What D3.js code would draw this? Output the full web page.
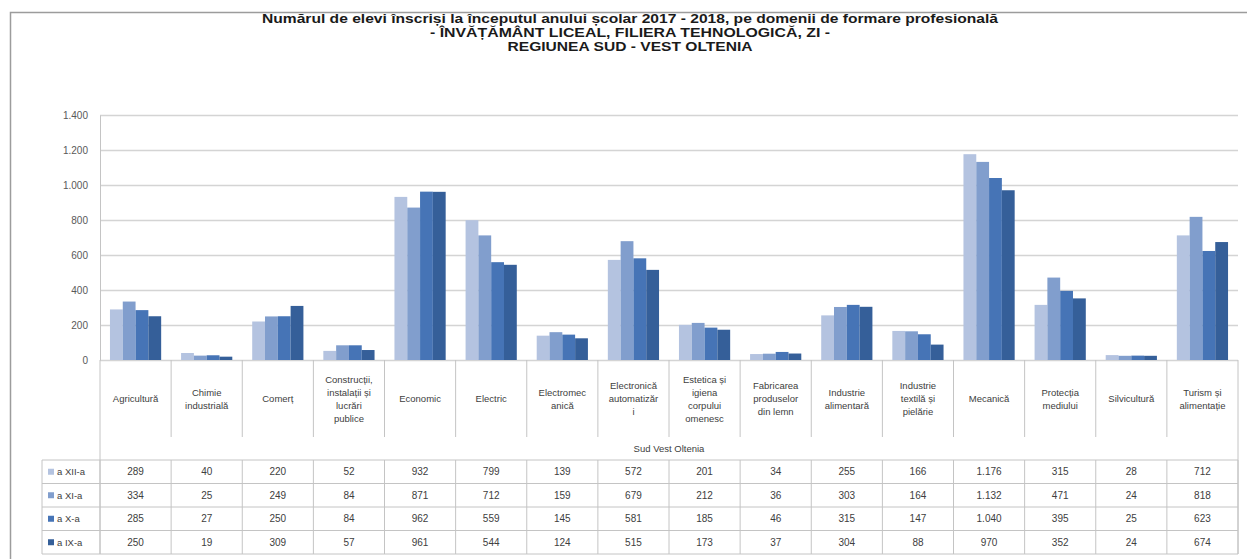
<!DOCTYPE html>
<html>
<head>
<meta charset="utf-8">
<script src="https://cdn.jsdelivr.net/npm/d3@7"></script>
<style>
  body { margin: 0; background: #fff; }
  svg { display: block; }
  text { font-family: "Liberation Sans Narrow", "Liberation Sans", Arial, sans-serif; }
</style>
</head>
<body>
<script>
// categories (domenii), each label already split into lines as in the picture
var categories = [
  ["Agricultură"],
  ["Chimie", "industrială"],
  ["Comerț"],
  ["Construcții,", "instalații și", "lucrări", "publice"],
  ["Economic"],
  ["Electric"],
  ["Electromec", "anică"],
  ["Electronică", "automatizăr", "i"],
  ["Estetica și", "igiena", "corpului", "omenesc"],
  ["Fabricarea", "produselor", "din lemn"],
  ["Industrie", "alimentară"],
  ["Industrie", "textilă și", "pielărie"],
  ["Mecanică"],
  ["Protecția", "mediului"],
  ["Silvicultură"],
  ["Turism și", "alimentație"]
];

var seriesNames = ["a XII-a", "a XI-a", "a X-a", "a IX-a"];
var clsXII = [289, 40, 220, 52, 932, 799, 139, 572, 201, 34, 255, 166, 1176, 315, 28, 712];
var clsXI  = [334, 25, 249, 84, 871, 712, 159, 679, 212, 36, 303, 164, 1132, 471, 24, 818];
var clsX   = [285, 27, 250, 84, 962, 559, 145, 581, 185, 46, 315, 147, 1040, 395, 25, 623];
var clsIX  = [250, 19, 309, 57, 961, 544, 124, 515, 173, 37, 304, 88, 970, 352, 24, 674];
var yTicks = [0, 200, 400, 600, 800, 1000, 1200, 1400];

var titleLines = [
  "Numărul de elevi înscriși la începutul anului școlar 2017 - 2018, pe domenii de formare profesională",
  "- ÎNVĂȚĂMÂNT LICEAL,  FILIERA TEHNOLOGICĂ, ZI -",
  "REGIUNEA SUD - VEST OLTENIA"
];
var titleWidths = [736, 400, 245];
var regionLabel = "Sud Vest Oltenia";

var series = [clsXII, clsXI, clsX, clsIX];
var colors = ["#b4c3e0", "#819ecd", "#4674b6", "#355f99"];

var width = 1247, height = 559;
var plotLeft = 100, plotRight = 1238, plotTop = 115, base = 360;
var gridColor = "#d4d4d4", lineColor = "#c4c4c4", txt = "#404040";

var ro = d3.formatLocale({ decimal: ",", thousands: ".", grouping: [3], currency: ["", " lei"] });
var fmt = ro.format(",d");

var svg = d3.select("body").append("svg")
  .attr("width", width)
  .attr("height", height);

// chart frame
svg.append("rect")
  .attr("x", 10.5).attr("y", 12.5)
  .attr("width", 1260).attr("height", 560)
  .attr("fill", "none").attr("stroke", "#9c9c9c").attr("stroke-width", 1.5);

// title
svg.append("g").selectAll("text")
  .data(titleLines)
  .enter().append("text")
  .attr("x", 630)
  .attr("y", (d, i) => 23 + i * 14)
  .attr("text-anchor", "middle")
  .attr("textLength", (d, i) => titleWidths[i])
  .attr("lengthAdjust", "spacingAndGlyphs")
  .style("font-size", "12.5px")
  .style("font-weight", "bold")
  .attr("fill", "#1a1a1a")
  .text(d => d);

var y = d3.scaleLinear().domain([0, 1400]).range([base, plotTop]);

var x = d3.scaleBand()
  .domain(d3.range(categories.length))
  .range([plotLeft, plotRight]);

var xs = d3.scaleBand()
  .domain(d3.range(series.length))
  .range([x.bandwidth() * 0.14, x.bandwidth() * 0.86]);

// gridlines
svg.append("g")
  .selectAll("line")
  .data(yTicks)
  .enter().append("line")
  .attr("x1", plotLeft).attr("x2", plotRight)
  .attr("y1", d => Math.round(y(d)) + 0.5)
  .attr("y2", d => Math.round(y(d)) + 0.5)
  .attr("stroke", gridColor).attr("stroke-width", 1.5);

// y axis
var yAxis = svg.append("g")
  .attr("transform", "translate(" + plotLeft + ",0)")
  .call(d3.axisLeft(y).tickValues(yTicks).tickFormat(fmt).tickSize(0).tickPadding(12));
yAxis.select(".domain").attr("stroke", lineColor);
yAxis.selectAll("text")
  .style("font-size", "10px")
  .attr("fill", "#595959")
  .style("font-family", "'Liberation Sans Narrow', 'Liberation Sans', sans-serif");

// bars
svg.append("g")
  .selectAll("g")
  .data(series)
  .enter().append("g")
  .attr("fill", (d, i) => colors[i])
  .each(function (vals, si) {
    d3.select(this).selectAll("rect")
      .data(vals)
      .enter().append("rect")
      .attr("x", (d, ci) => x(ci) + xs(si))
      .attr("width", xs.bandwidth())
      .attr("y", d => y(d))
      .attr("height", d => base - y(d));
  });

// ---- data table under the chart ----
var catBottom = 437, regionBottom = 460, rowH = 23.5, legendLeft = 42;
var tableBottom = regionBottom + rowH * series.length;
var edgeX = d => d === categories.length ? plotRight : x(d);

var tbl = svg.append("g")
  .attr("stroke", lineColor).attr("stroke-width", 1);

// category separators
tbl.selectAll(".sep")
  .data(d3.range(categories.length + 1))
  .enter().append("line")
  .attr("x1", edgeX).attr("x2", edgeX)
  .attr("y1", base)
  .attr("y2", d => (d === 0 || d === categories.length) ? tableBottom : catBottom);

// data rows: horizontal lines
tbl.selectAll(".hl")
  .data(d3.range(series.length + 1))
  .enter().append("line")
  .attr("x1", legendLeft).attr("x2", plotRight)
  .attr("y1", d => regionBottom + d * rowH)
  .attr("y2", d => regionBottom + d * rowH);

// data rows: vertical lines
tbl.selectAll(".vl")
  .data(d3.range(categories.length + 1))
  .enter().append("line")
  .attr("x1", edgeX).attr("x2", edgeX)
  .attr("y1", regionBottom).attr("y2", tableBottom);

tbl.append("line")
  .attr("x1", legendLeft).attr("x2", legendLeft)
  .attr("y1", regionBottom).attr("y2", tableBottom);

// category labels
var catG = svg.append("g")
  .selectAll("text")
  .data(categories)
  .enter().append("text")
  .attr("text-anchor", "middle")
  .style("font-size", "9.5px")
  .attr("fill", txt)
  .attr("transform", (d, i) => "translate(" + (x(i) + x.bandwidth() / 2) + "," +
    (402 - (d.length - 1) * 6.5) + ")");
catG.selectAll("tspan")
  .data(d => d)
  .enter().append("tspan")
  .attr("x", 0)
  .attr("dy", (d, i) => i === 0 ? 0 : 13)
  .text(d => d);

svg.append("text")
  .attr("x", (plotLeft + plotRight) / 2)
  .attr("y", 452)
  .attr("text-anchor", "middle")
  .style("font-size", "9.5px")
  .attr("fill", txt)
  .text(regionLabel);

// legend column + values
series.forEach(function (vals, si) {
  var cy = regionBottom + si * rowH + rowH / 2;
  svg.append("rect")
    .attr("x", legendLeft + 6).attr("y", cy - 3)
    .attr("width", 6).attr("height", 6)
    .attr("fill", colors[si]);
  svg.append("text")
    .attr("x", legendLeft + 15).attr("y", cy + 3.5)
    .style("font-size", "9.5px")
    .attr("fill", txt)
    .text(seriesNames[si]);
  svg.append("g").selectAll("text")
    .data(vals)
    .enter().append("text")
    .attr("x", (d, ci) => x(ci) + x.bandwidth() / 2)
    .attr("y", cy + 3.5)
    .attr("text-anchor", "middle")
    .style("font-size", "10px")
    .attr("fill", txt)
    .text(d => fmt(d));
});
</script>
</body>
</html>
